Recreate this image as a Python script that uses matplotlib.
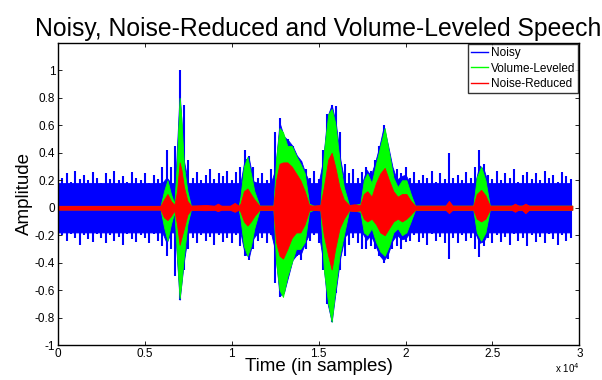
import numpy as np
import matplotlib
matplotlib.use('Agg')
import matplotlib.pyplot as plt
from matplotlib.lines import Line2D

plt.rcParams['font.family'] = ['Liberation Sans', 'DejaVu Sans']

# envelopes (amplitude vs. sample index)

# noisy signal: peak values every 250 samples
noisy_t = np.arange(0, 29750, 250)
noisy_hi = [0.28, 0.22, 0.25, 0.19, 0.27, 0.21, 0.24, 0.2, 0.26, 0.22, 0.18, 0.25,
            0.21, 0.27, 0.2, 0.23, 0.19, 0.26, 0.22, 0.2, 0.25, 0.18, 0.24, 0.21,
            0.3, 0.42, 0.3, 0.45, 1.0, 0.75, 0.35,
            0.22, 0.26, 0.2, 0.24, 0.28, 0.21, 0.25, 0.23, 0.27, 0.2, 0.26,
            0.3, 0.42, 0.38, 0.3, 0.22,
            0.25, 0.2, 0.28,
            0.55, 0.65, 0.52, 0.5, 0.45, 0.38, 0.34, 0.28,
            0.22, 0.27, 0.21,
            0.42, 0.68, 0.75, 0.74, 0.55, 0.32, 0.25,
            0.28, 0.22,
            0.26, 0.3, 0.27, 0.35, 0.45, 0.6, 0.45, 0.3, 0.28, 0.25, 0.3, 0.22,
            0.26, 0.2, 0.24, 0.22, 0.27, 0.19, 0.25, 0.21,
            0.4, 0.22,
            0.24, 0.2, 0.26, 0.22,
            0.3, 0.42, 0.32,
            0.24, 0.21, 0.27, 0.2, 0.25, 0.22, 0.28, 0.19, 0.24, 0.26, 0.21, 0.25,
            0.2, 0.27, 0.22, 0.24, 0.19, 0.26, 0.23, 0.21]
noisy_lo = [-0.26, -0.2, -0.24, -0.19, -0.22, -0.27, -0.2, -0.23, -0.25, -0.19, -0.22, -0.26,
            -0.2, -0.24, -0.21, -0.27, -0.19, -0.23, -0.25, -0.2, -0.22, -0.26, -0.19, -0.24,
            -0.28, -0.35, -0.3, -0.5, -0.67, -0.45, -0.3,
            -0.22, -0.26, -0.2, -0.24, -0.21, -0.27, -0.2, -0.25, -0.22, -0.26, -0.2,
            -0.28, -0.35, -0.38, -0.3, -0.24,
            -0.22, -0.26, -0.2,
            -0.55, -0.65, -0.62, -0.5, -0.38, -0.35, -0.38, -0.3,
            -0.24, -0.2, -0.26,
            -0.45, -0.7, -0.83, -0.62, -0.45, -0.35, -0.27,
            -0.22, -0.26,
            -0.3, -0.3, -0.28, -0.3, -0.35, -0.4, -0.37, -0.3, -0.28, -0.3, -0.25, -0.24,
            -0.2, -0.25, -0.22, -0.27, -0.19, -0.24, -0.21, -0.26,
            -0.37, -0.22,
            -0.26, -0.2, -0.24, -0.22,
            -0.3, -0.36, -0.28,
            -0.22, -0.26, -0.2, -0.25, -0.21, -0.27, -0.19, -0.24, -0.22, -0.28, -0.2, -0.25,
            -0.21, -0.26, -0.19, -0.23, -0.27, -0.2, -0.24, -0.22]
noisy_core = 0.18  # solid noise band between the spikes

# speech (volume-leveled and noise-reduced) envelopes at irregular knots
speech_t = [0, 5900, 6100, 6300, 6500, 6700, 6850, 7000, 7100, 7250, 7450, 7650,
            8500, 9000, 9200, 9400, 9900, 10170, 10400, 10500, 10700, 10900, 11100,
            11300, 11600, 12400, 12550, 12750, 12950, 13200, 13450, 13700, 13950,
            14200, 14450, 14700, 15100, 15300, 15550, 15750, 15950, 16200, 16450,
            16750, 17050, 17400, 17600, 17800, 18050, 18300, 18550, 18800, 19050,
            19300, 19550, 19800, 20050, 20300, 20550, 22300, 22500, 22700, 23900,
            24100, 24350, 24600, 24850, 26100, 26300, 26500, 26700, 26900, 27100, 29600]
level_hi = [0.012, 0.012, 0.12, 0.20, 0.10, 0.03, 0.35, 0.80, 0.65, 0.30, 0.12, 0.015,
            0.012, 0.012, 0.02, 0.012, 0.012, 0.02, 0.012, 0.08, 0.30, 0.37, 0.25,
            0.12, 0.015, 0.015, 0.35, 0.58, 0.55, 0.45, 0.45, 0.38, 0.32,
            0.25, 0.03, 0.015, 0.015, 0.40, 0.68, 0.72, 0.62, 0.35, 0.15,
            0.02, 0.02, 0.03, 0.20, 0.25, 0.18, 0.32, 0.45, 0.58, 0.40,
            0.22, 0.15, 0.20, 0.20, 0.10, 0.015, 0.015, 0.04, 0.015, 0.015,
            0.22, 0.30, 0.20, 0.015, 0.015, 0.02, 0.015, 0.015, 0.02, 0.015, 0.015]
level_lo = [-0.012, -0.012, -0.14, -0.24, -0.12, -0.03, -0.35, -0.66, -0.55, -0.35, -0.12, -0.015,
            -0.012, -0.012, -0.02, -0.012, -0.012, -0.02, -0.012, -0.08, -0.28, -0.35, -0.28,
            -0.15, -0.015, -0.015, -0.40, -0.60, -0.65, -0.50, -0.40, -0.30, -0.30,
            -0.25, -0.03, -0.015, -0.015, -0.45, -0.70, -0.83, -0.60, -0.35, -0.20,
            -0.02, -0.02, -0.03, -0.18, -0.20, -0.15, -0.25, -0.32, -0.35, -0.28,
            -0.18, -0.15, -0.20, -0.18, -0.10, -0.015, -0.015, -0.03, -0.015, -0.015,
            -0.18, -0.24, -0.18, -0.015, -0.015, -0.02, -0.015, -0.015, -0.03, -0.015, -0.015]
reduced_hi = [0.014, 0.014, 0.06, 0.10, 0.05, 0.02, 0.12, 0.33, 0.28, 0.15, 0.05, 0.015,
              0.02, 0.015, 0.03, 0.015, 0.015, 0.035, 0.015, 0.03, 0.12, 0.14, 0.10,
              0.06, 0.015, 0.015, 0.20, 0.32, 0.33, 0.33, 0.30, 0.25, 0.20,
              0.12, 0.02, 0.015, 0.02, 0.15, 0.35, 0.40, 0.30, 0.15, 0.06,
              0.02, 0.025, 0.02, 0.10, 0.12, 0.08, 0.18, 0.25, 0.29, 0.20,
              0.12, 0.08, 0.10, 0.10, 0.05, 0.015, 0.015, 0.05, 0.015, 0.015,
              0.10, 0.13, 0.09, 0.015, 0.015, 0.03, 0.015, 0.015, 0.03, 0.015, 0.015]
reduced_lo = [-0.014, -0.014, -0.07, -0.09, -0.06, -0.02, -0.12, -0.27, -0.22, -0.15, -0.05, -0.015,
              -0.018, -0.015, -0.025, -0.015, -0.015, -0.03, -0.015, -0.03, -0.10, -0.13, -0.10,
              -0.06, -0.015, -0.015, -0.25, -0.35, -0.37, -0.30, -0.22, -0.18, -0.18,
              -0.12, -0.02, -0.015, -0.02, -0.20, -0.35, -0.45, -0.30, -0.15, -0.08,
              -0.02, -0.025, -0.02, -0.08, -0.10, -0.08, -0.12, -0.18, -0.20, -0.15,
              -0.10, -0.08, -0.10, -0.08, -0.05, -0.015, -0.015, -0.04, -0.015, -0.015,
              -0.08, -0.10, -0.08, -0.015, -0.015, -0.03, -0.015, -0.015, -0.04, -0.015, -0.015]

xtick_vals = [0, 5000, 10000, 15000, 20000, 25000, 30000]
xtick_labels = ['0', '0.5', '1', '1.5', '2', '2.5', '3']
ytick_vals = [-1, -0.8, -0.6, -0.4, -0.2, 0, 0.2, 0.4, 0.6, 0.8, 1]
ytick_labels = ['-1', '-0.8', '-0.6', '-0.4', '-0.2', '0', '0.2', '0.4', '0.6', '0.8', '1']

blue = '#0000ff'
green = '#00ff00'
red = '#ff0000'

fig = plt.figure(figsize=(6.02, 3.80), dpi=100)
ax = fig.add_axes([0.0963, 0.092, 0.866, 0.795])

# noisy: solid core band plus narrow spikes at each read peak
hi = np.array(noisy_hi)
lo = np.array(noisy_lo)
lev_hi = np.interp(noisy_t, speech_t, level_hi)
lev_lo = np.interp(noisy_t, speech_t, level_lo)
core_hi = np.minimum(hi, np.maximum(noisy_core, lev_hi + 0.04))
core_lo = np.maximum(lo, np.minimum(-noisy_core, lev_lo - 0.04))
ax.fill_between(noisy_t, core_lo, core_hi, color=blue, lw=0.6, zorder=1)
ax.vlines(noisy_t, lo, hi, color=blue, lw=1.5, zorder=1)

ax.fill_between(speech_t, level_lo, level_hi, color=green, lw=0.6, zorder=2)
ax.fill_between(speech_t, reduced_lo, reduced_hi, color=red, lw=0.6, zorder=3)

ax.set_xlim(0, 30000)
ax.set_ylim(-1, 1.2)
ax.set_xticks(xtick_vals)
ax.set_xticklabels(xtick_labels, fontsize=8.5)
ax.set_yticks(ytick_vals)
ax.set_yticklabels(ytick_labels, fontsize=8.5)
ax.tick_params(direction='in', top=True, right=True, length=3, width=0.6, pad=2)
for s in ax.spines.values():
    s.set_linewidth(1.0)
    s.set_zorder(5)

ax.set_title('Noisy, Noise-Reduced and Volume-Leveled Speech', fontsize=17.8, pad=5)
ax.set_xlabel('Time (in samples)', fontsize=13.5, labelpad=-1)
ax.set_ylabel('Amplitude', fontsize=13.5, labelpad=1)
ax.text(1.0, -0.055, r'x 10$^4$', transform=ax.transAxes, ha='right', va='top', fontsize=7)

handles = [Line2D([], [], color=blue, lw=1),
           Line2D([], [], color=green, lw=1),
           Line2D([], [], color=red, lw=1)]
leg = ax.legend(handles, ['Noisy', 'Volume-Leveled', 'Noise-Reduced'], loc='upper right',
                fontsize=8.5, frameon=True, fancybox=False, borderaxespad=0.1,
                handlelength=1.5, handletextpad=0.2, borderpad=0.25, labelspacing=0.3)
leg.get_frame().set_edgecolor('black')
leg.get_frame().set_linewidth(1.0)

fig.savefig('out.png', dpi=100)
